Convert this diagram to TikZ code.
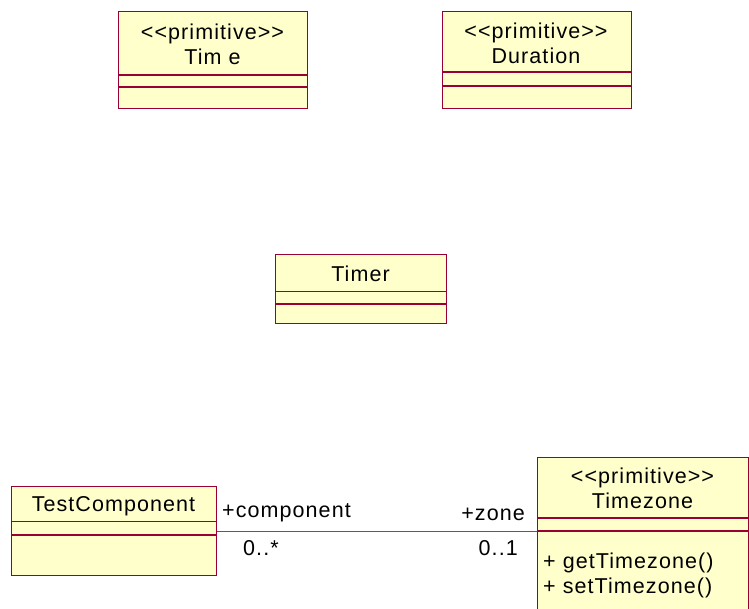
\documentclass[tikz,border=0pt]{standalone}
\usepackage{fontspec}
\setmainfont{Liberation Sans}[LetterSpace=5,Ligatures=TeXOff]
\definecolor{clsfill}{RGB}{255,255,204}
\definecolor{clsline}{RGB}{153,0,51}
\begin{document}
\begin{tikzpicture}[x=1pt,y=-1pt,
  cls/.style={draw=clsline,fill=clsfill,line width=1.3pt,rectangle,inner sep=0pt,anchor=north west},
  sep/.style={draw=clsline,line width=1.1pt},
  lbl/.style={inner sep=0pt,anchor=base,font=\fontsize{21.5}{25}\selectfont},
  lbll/.style={lbl,anchor=base west},
  lblr/.style={lbl,anchor=base east},
  assoc/.style={draw=clsline!80,line width=1.1pt}]
\useasboundingbox (0,0) rectangle (749,608);
\clip (0,0) rectangle (749,608);
% Time
\node[cls,minimum width=189pt,minimum height=97pt] (time) at (118,11) {};
\draw[sep] (time.west |- 0,75) -- (time.east |- 0,75);
\draw[sep] (time.west |- 0,87) -- (time.east |- 0,87);
\node[lbl] (timeS) at (212.5,39) {<<primitive>>};
\node[lbl] (timeN) at (212.5,64) {Tim e};
% Duration
\node[cls,minimum width=189pt,minimum height=97pt] (dur) at (442,11) {};
\draw[sep] (dur.west |- 0,72) -- (dur.east |- 0,72);
\draw[sep] (dur.west |- 0,86) -- (dur.east |- 0,86);
\node[lbl] (durS) at (536,38) {<<primitive>>};
\node[lbl] (durN) at (536,63) {Duration};
% Timer
\node[cls,minimum width=171pt,minimum height=69pt] (timer) at (275,254) {};
\draw[sep] (timer.west |- 0,291.5) -- (timer.east |- 0,291.5);
\draw[sep] (timer.west |- 0,304) -- (timer.east |- 0,304);
\node[lbl] (timerN) at (360.5,281) {Timer};
% TestComponent
\node[cls,minimum width=205pt,minimum height=89pt] (tc) at (11,486) {};
\draw[sep] (tc.west |- 0,521.5) -- (tc.east |- 0,521.5);
\draw[sep] (tc.west |- 0,535) -- (tc.east |- 0,535);
\node[lbl] (tcN) at (113.5,511) {TestComponent};
% Timezone
\node[cls,minimum width=211pt,minimum height=190pt] (tz) at (537,457) {};
\draw[sep] (tz.west |- 0,518) -- (tz.east |- 0,518);
\draw[sep] (tz.west |- 0,531) -- (tz.east |- 0,531);
\node[lbl] (tzS) at (642.5,483) {<<primitive>>};
\node[lbl] (tzN) at (642.5,508) {Timezone};
\node[lbll] (tzM1) at (543,568) {+ getTimezone()};
\node[lbll] (tzM2) at (543,593) {+ setTimezone()};
% association
\draw[assoc] (tc.east) -- (tc.east -| tz.west);
\node[lbll] (roleA) at (222,517) {+component};
\node[lblr] (roleB) at (525,520) {+zone};
\node[lbll] (multA) at (243,555) {0..*};
\node[lblr] (multB) at (518,555) {0..1};
\end{tikzpicture}
\end{document}
